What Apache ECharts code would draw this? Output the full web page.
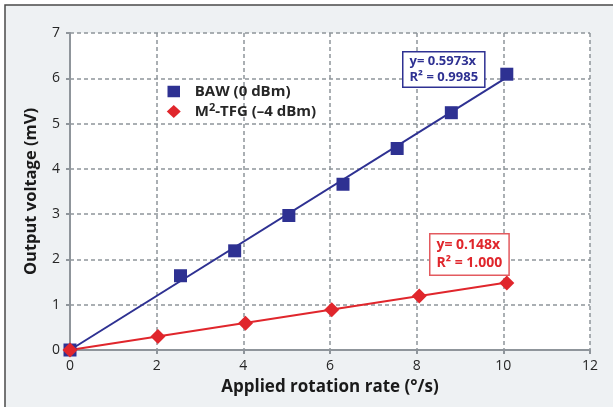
<!DOCTYPE html>
<html>
<head>
<meta charset="utf-8">
<script src="https://cdn.jsdelivr.net/npm/echarts@6/dist/echarts.min.js"></script>
<style>
  html, body { margin: 0; padding: 0; background: #fff; }
  #chart { width: 613px; height: 407px; }
</style>
</head>
<body>
<div id="chart"></div>
<script>
// data
var xTicks = [0, 2, 4, 6, 8, 10, 12];
var yTicks = [0, 1, 2, 3, 4, 5, 6, 7];
var bawX = [0, 2.55, 3.8, 5.05, 6.3, 7.55, 8.8, 10.08];
var bawY = [0, 1.64, 2.19, 2.97, 3.66, 4.45, 5.24, 6.09];
var tfgX = [0, 2.03, 4.05, 6.04, 8.06, 10.08];
var tfgY = [0, 0.3, 0.59, 0.89, 1.19, 1.48];
// trend line end points (as drawn)
var bawTrend = [[0, 0], [10.08, 6.02]];
var tfgTrend = [[0, 0], [10.08, 1.49]];
var bawName = 'BAW (0 dBm)';
var tfgName = 'M2-TFG (\u20134 dBm)';
var bawEq = ['y= 0.5973x', 'R\u00b2 = 0.9985'];
var tfgEq = ['y= 0.148x', 'R\u00b2 = 1.000'];

var blue = '#2e3192';
var red = '#e0262c';
var gridGray = '#8f959b';
var font = 'Open Sans';

function pairs(xs, ys) {
  return xs.map(function (x, i) { return [x, ys[i]]; });
}

var myChart = echarts.init(document.getElementById('chart'));
var option = {
  animation: false,
  backgroundColor: '#fff',
  textStyle: { fontFamily: font },
  graphic: [
    {
      type: 'rect', z: -10,
      shape: { x: 5, y: 5, width: 640, height: 440 },
      style: { fill: '#eef1f3', stroke: '#4a4a4a', lineWidth: 1.5 }
    },
    {
      type: 'text', left: 402, top: 51, z: 100,
      style: {
        text: bawEq.join('\n'), fill: blue, font: 'bold 13px "Open Sans"',
        lineHeight: 16, backgroundColor: '#fff', borderColor: blue, borderWidth: 1.5,
        padding: [1, 6, 1, 6]
      }
    },
    {
      type: 'text', left: 429, top: 233, z: 100,
      style: {
        text: tfgEq.join('\n'), fill: red, font: 'bold 14px "Open Sans"',
        lineHeight: 18, backgroundColor: '#fff', borderColor: '#e35a5f', borderWidth: 1.5,
        padding: [2, 6, 2, 6]
      }
    }
  ],
  grid: {
    left: 70, right: 23, top: 33, bottom: 57,
    show: true, backgroundColor: '#fff', borderWidth: 0
  },
  legend: {
    orient: 'vertical',
    left: 161, top: 79,
    itemGap: 3, itemWidth: 14, itemHeight: 13,
    data: [
      { name: bawName, icon: 'rect', itemStyle: { borderColor: '#fff', borderWidth: 1.5 } },
      { name: tfgName, icon: 'diamond' }
    ],
    formatter: function (name) {
      return name === tfgName ? 'M{sup|2}-TFG (\u20134 dBm)' : name;
    },
    textStyle: {
      color: '#262626', fontSize: 15, fontWeight: 'bold', fontFamily: font,
      padding: [0, 0, 0, 9],
      rich: {
        sup: { fontSize: 11, fontWeight: 'bold', color: '#262626', padding: [0, 0, 8, 0], fontFamily: font }
      }
    }
  },
  xAxis: {
    type: 'value', min: 0, max: 12, interval: 2,
    name: 'Applied rotation rate (\u00b0/s)',
    nameLocation: 'middle', nameGap: 29,
    nameTextStyle: { fontSize: 17, fontWeight: 'bold', color: '#1a1a1a', fontFamily: font },
    axisLine: { show: true, lineStyle: { color: gridGray, width: 2 } },
    axisTick: { show: true, length: 4, lineStyle: { color: gridGray, width: 2 } },
    axisLabel: { color: '#262626', fontSize: 14, margin: 9, fontFamily: font,
      formatter: function (v) { return xTicks.indexOf(v) >= 0 ? String(v) : ''; } },
    splitLine: { show: true, lineStyle: { color: gridGray, width: 1.5, type: [4, 3] } }
  },
  yAxis: {
    type: 'value', min: 0, max: 7, interval: 1,
    name: 'Output voltage (mV)',
    nameLocation: 'middle', nameGap: 30,
    nameTextStyle: { fontSize: 16.5, fontWeight: 'bold', color: '#1a1a1a', fontFamily: font },
    axisLine: { show: true, lineStyle: { color: gridGray, width: 2 } },
    axisTick: { show: true, length: 4, lineStyle: { color: gridGray, width: 2 } },
    axisLabel: { color: '#262626', fontSize: 14, margin: 10, fontFamily: font,
      formatter: function (v) { return yTicks.indexOf(v) >= 0 ? String(v) : ''; } },
    splitLine: { show: true, lineStyle: { color: gridGray, width: 1.5, type: [4, 3] } }
  },
  series: [
    {
      name: 'bawTrend', type: 'line', data: bawTrend, symbol: 'none', z: 3,
      lineStyle: { color: blue, width: 2 }, silent: true
    },
    {
      name: 'tfgTrend', type: 'line', data: tfgTrend, symbol: 'none', z: 3,
      lineStyle: { color: red, width: 2 }, silent: true
    },
    {
      name: bawName, type: 'scatter', data: pairs(bawX, bawY),
      symbol: 'rect', symbolSize: 13, z: 4,
      itemStyle: { color: blue, opacity: 1 }
    },
    {
      name: tfgName, type: 'scatter', data: pairs(tfgX, tfgY),
      symbol: 'diamond', symbolSize: 15, z: 5,
      itemStyle: { color: red, opacity: 1 }
    }
  ]
};

option && myChart.setOption(option);
</script>
</body>
</html>
